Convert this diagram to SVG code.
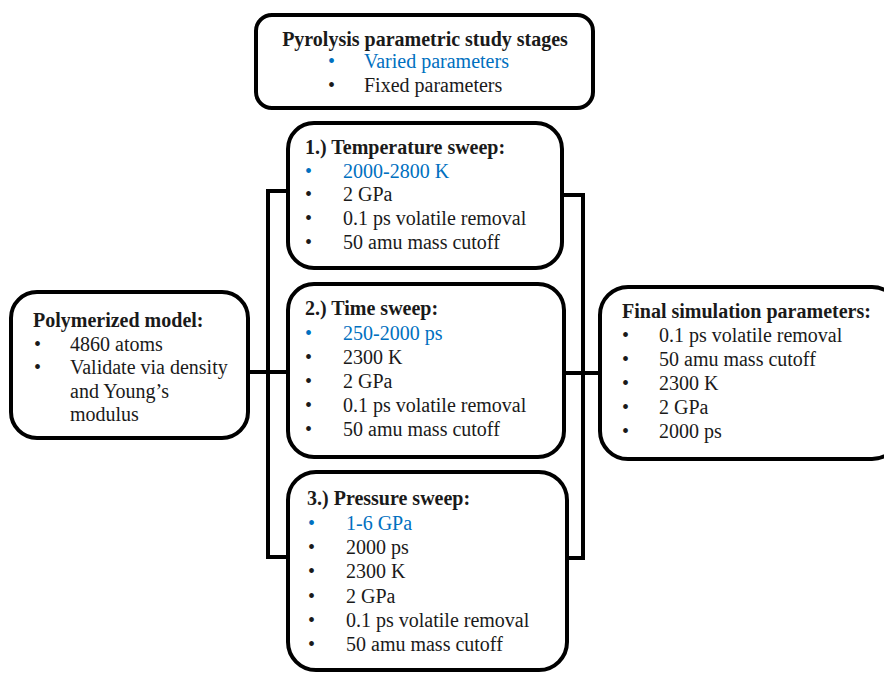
<svg xmlns="http://www.w3.org/2000/svg" width="884" height="673" viewBox="0 0 884 673">
<style>
.box{fill:#fff;stroke:#000;stroke-width:4}
.ln{fill:none;stroke:#000;stroke-width:4}
text{font-family:"Liberation Serif","Times New Roman",serif;font-size:20px;fill:#1a1a1a}
.b{font-weight:bold}
.blue{fill:#0070c0}
</style>
<rect width="884" height="673" fill="#fff"/>
<g id="connectors">
<polyline class="ln" points="287,191 268,191 268,557 287,557"/>
<line class="ln" x1="249" y1="372" x2="287" y2="372"/>
<polyline class="ln" points="564,195 583,195 583,558 567,558"/>
<line class="ln" x1="565" y1="373" x2="600" y2="373"/>
</g>
<g id="title">
<rect class="box" x="256" y="15" width="337" height="93" rx="16"/>
<text class="b" x="425" y="46" text-anchor="middle">Pyrolysis parametric study stages</text>
<text class="blue" x="328" y="68">•</text><text class="blue" x="364" y="68">Varied parameters</text>
<text x="328" y="92">•</text><text x="364" y="92">Fixed parameters</text>
</g>
<g id="polymerized">
<rect class="box" x="11" y="292" width="237" height="146" rx="26"/>
<text class="b" x="33" y="327">Polymerized model:</text>
<text x="34" y="351">•</text><text x="70" y="351">4860 atoms</text>
<text x="34" y="374">•</text><text x="70" y="374">Validate via density</text>
<text x="70" y="398">and Young’s</text>
<text x="70" y="421">modulus</text>
</g>
<g id="temperature">
<rect class="box" x="288" y="123" width="274" height="145" rx="26"/>
<text class="b" x="305" y="154">1.) Temperature sweep:</text>
<text class="blue" x="305" y="178">•</text><text class="blue" x="343" y="178">2000-2800 K</text>
<text x="305" y="201">•</text><text x="343" y="201">2 GPa</text>
<text x="305" y="225">•</text><text x="343" y="225">0.1 ps volatile removal</text>
<text x="305" y="249">•</text><text x="343" y="249">50 amu mass cutoff</text>
</g>
<g id="time">
<rect class="box" x="288" y="284" width="276" height="173" rx="26"/>
<text class="b" x="305" y="315">2.) Time sweep:</text>
<text class="blue" x="305" y="340">•</text><text class="blue" x="343" y="340">250-2000 ps</text>
<text x="305" y="364">•</text><text x="343" y="364">2300 K</text>
<text x="305" y="388">•</text><text x="343" y="388">2 GPa</text>
<text x="305" y="412">•</text><text x="343" y="412">0.1 ps volatile removal</text>
<text x="305" y="436">•</text><text x="343" y="436">50 amu mass cutoff</text>
</g>
<g id="pressure">
<rect class="box" x="288" y="472" width="279" height="198" rx="28"/>
<text class="b" x="307" y="505">3.) Pressure sweep:</text>
<text class="blue" x="308" y="530">•</text><text class="blue" x="346" y="530">1-6 GPa</text>
<text x="308" y="554">•</text><text x="346" y="554">2000 ps</text>
<text x="308" y="578">•</text><text x="346" y="578">2300 K</text>
<text x="308" y="603">•</text><text x="346" y="603">2 GPa</text>
<text x="308" y="627">•</text><text x="346" y="627">0.1 ps volatile removal</text>
<text x="308" y="651">•</text><text x="346" y="651">50 amu mass cutoff</text>
</g>
<g id="final">
<rect class="box" x="600" y="287" width="300" height="172" rx="28"/>
<text class="b" x="622" y="318">Final simulation parameters:</text>
<text x="622" y="342">•</text><text x="659" y="342">0.1 ps volatile removal</text>
<text x="622" y="366">•</text><text x="659" y="366">50 amu mass cutoff</text>
<text x="622" y="390">•</text><text x="659" y="390">2300 K</text>
<text x="622" y="414">•</text><text x="659" y="414">2 GPa</text>
<text x="622" y="438">•</text><text x="659" y="438">2000 ps</text>
</g>
</svg>
